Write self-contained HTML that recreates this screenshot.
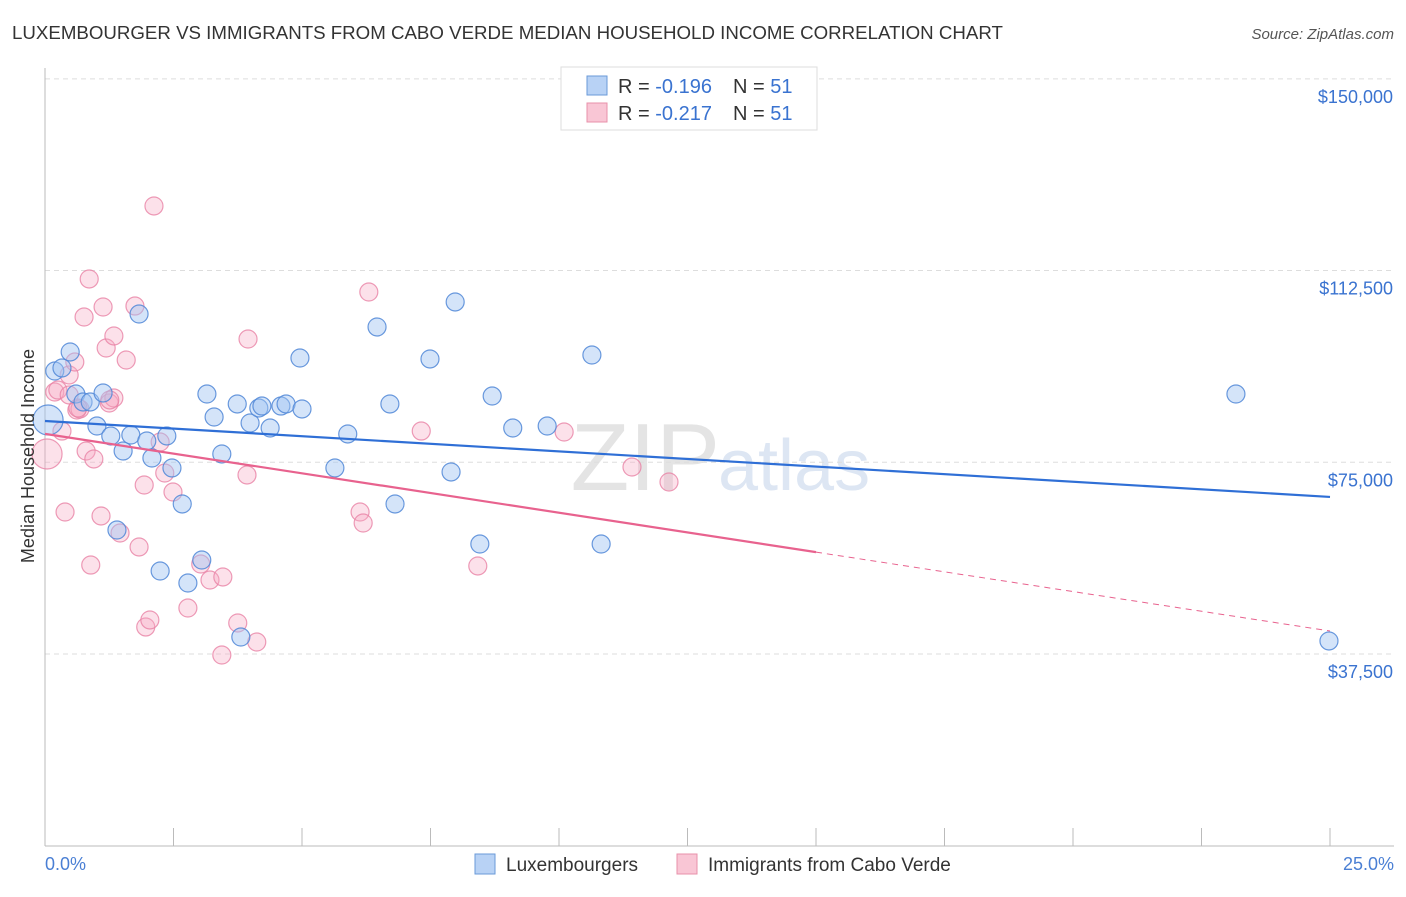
<!DOCTYPE html>
<html><head><meta charset="utf-8">
<style>
body{margin:0;background:#fff;font-family:"Liberation Sans",sans-serif;}
svg text{font-family:"Liberation Sans",sans-serif;}
</style></head>
<body>
<svg id="chart" width="1406" height="892">
<text x="12" y="39" font-size="18.7" fill="#333">LUXEMBOURGER VS IMMIGRANTS FROM CABO VERDE MEDIAN HOUSEHOLD INCOME CORRELATION CHART</text>
<text x="1394" y="39" font-size="15" fill="#555" font-style="italic" text-anchor="end">Source: ZipAtlas.com</text>
<text x="720" y="490" font-size="96" fill="#e4e4e4" font-family="Liberation Serif" text-anchor="end">ZIP</text>
<text x="718" y="490" font-size="72" fill="#dde6f3">atlas</text>
<g id="grid"></g>
<g id="axes"></g>
<g id="pts"></g>
<g id="trend"></g>
<text transform="translate(34,456) rotate(-90)" font-size="18" fill="#333" text-anchor="middle">Median Household Income</text>
<text x="45" y="870" font-size="18" fill="#4a7fd4">0.0%</text>
<text x="1394" y="870" font-size="18" fill="#4a7fd4" text-anchor="end">25.0%</text>
<g>
<rect x="561" y="67" width="256" height="63" fill="#fff" stroke="#ddd"/>
<rect x="587" y="76" width="20" height="19" fill="#b8d2f5" stroke="#6a9ad8"/>
<rect x="587" y="103" width="20" height="19" fill="#f9c6d5" stroke="#e890aa"/>
<text x="618" y="93" font-size="20" fill="#333">R = <tspan fill="#3a73d0">-0.196</tspan></text>
<text x="733" y="93" font-size="20" fill="#333">N = <tspan fill="#3a73d0">51</tspan></text>
<text x="618" y="120" font-size="20" fill="#333">R = <tspan fill="#3a73d0">-0.217</tspan></text>
<text x="733" y="120" font-size="20" fill="#333">N = <tspan fill="#3a73d0">51</tspan></text>
</g>
<g>
<rect x="475" y="854" width="20" height="20" fill="#b8d2f5" stroke="#6a9ad8"/>
<text x="506" y="871" font-size="19" fill="#333">Luxembourgers</text>
<rect x="677" y="854" width="20" height="20" fill="#f9c6d5" stroke="#e890aa"/>
<text x="708" y="871" font-size="19" fill="#333">Immigrants from Cabo Verde</text>
</g>
</svg>
<script>
const yTicks=[37500,75000,112500,150000];
const yTickLabels=["$37,500","$75,000","$112,500","$150,000"];
const blueX=[.19,.49,.33,.60,.74,.88,1.13,1.01,1.28,1.52,1.67,1.83,1.98,2.08,2.24,2.37,2.47,2.67,2.78,3.05,3.15,3.29,3.44,3.74,3.81,3.99,4.16,4.22,4.38,4.59,4.69,4.96,5.00,5.64,5.89,6.46,6.71,6.81,7.49,7.90,7.98,8.46,8.70,9.10,9.77,10.64,10.82,23.17,24.98,.06,1.40];
const blueY=[92850,96570,93440,88350,86790,86790,88550,82090,80140,77200,80330,104000,79160,75830,53730,80140,73880,66840,51380,55880,88350,83850,76620,86400,40820,82680,85610,86000,81700,86000,86400,95390,85420,73880,80530,101460,86400,66840,95200,73100,106350,59010,87960,81700,82090,95980,59010,88350,40040,83270,61750];
const pinkX=[.04,.19,.25,.33,.39,.47,.62,.68,.76,.80,.86,.89,.95,1.09,1.13,1.19,1.25,1.34,1.34,1.46,1.58,1.75,1.83,1.93,1.96,2.04,2.12,2.24,2.33,2.49,2.78,3.03,3.21,3.46,3.44,3.75,3.93,3.95,4.12,6.13,6.19,6.30,7.32,8.42,10.10,11.42,12.14,.58,.64,.47,1.26];
const pinkY=[76620,88740,89130,81110,65270,92070,85220,85420,103410,77200,110850,54900,75640,64490,105370,97350,86590,87570,99700,61160,95000,105560,58430,70550,42780,44150,125130,78960,72900,69180,46490,55100,51970,52560,37300,43560,72510,99110,39840,65270,63120,108300,81110,54710,80920,74070,71140,94610,85610,88160,87180];
const blueTrend=[83070,68220];
const pinkTrend=[80550,42000];
const pinkSolidEnd=15;
const NS="http://www.w3.org/2000/svg";
const X=p=>45+p/25*1285;
const Y=v=>845.7-v/195.6;
function mk(tag,attrs,parent){const e=document.createElementNS(NS,tag);for(const k in attrs)e.setAttribute(k,attrs[k]);document.getElementById(parent).appendChild(e);return e;}
yTicks.forEach((t,i)=>{
 const g=mk('line',{x1:45,x2:1394,y1:Y(t),y2:Y(t),stroke:'#ddd','stroke-dasharray':'5,4'},'grid');
 
 
 const tx=mk('text',{x:1393,y:Y(t)+24,'font-size':18,fill:'#3a73d0','text-anchor':'end'},'grid');
 tx.textContent=yTickLabels[i];
 
 
});
const ax=mk('line',{x1:45,x2:45,y1:68,y2:846,stroke:'#bbb'},'axes');


const bx=mk('line',{x1:45,x2:1394,y1:846,y2:846,stroke:'#bbb'},'axes');


for(let i=0;i<=10;i++){const t=mk('line',{x1:X(i*2.5),x2:X(i*2.5),y1:828,y2:846,stroke:'#bbb'},'axes');
 
 }
function dots(xs,ys,fill,stroke,name){xs.forEach((x,i)=>{
 const r=(x<0.1)?15:9;
 const c=mk('circle',{cx:X(x),cy:Y(ys[i]),r:r,fill:fill,stroke:stroke,'stroke-width':1.2},'pts');
 
 
});}
dots(pinkX,pinkY,'rgba(246,170,195,0.35)','rgba(232,130,165,0.8)','cabo-verde-point');
dots(blueX,blueY,'rgba(160,195,242,0.45)','rgba(80,135,215,0.85)','luxembourger-point');
const bl=mk('line',{x1:X(0),y1:Y(blueTrend[0]),x2:X(25),y2:Y(blueTrend[1]),stroke:'#2f6fd6','stroke-width':2.2},'trend');


const pAt=p=>pinkTrend[0]+(pinkTrend[1]-pinkTrend[0])*p/25;
const pl=mk('line',{x1:X(0),y1:Y(pinkTrend[0]),x2:X(pinkSolidEnd),y2:Y(pAt(pinkSolidEnd)),stroke:'#e8628e','stroke-width':2.2},'trend');


const pd=mk('line',{x1:X(pinkSolidEnd),y1:Y(pAt(pinkSolidEnd)),x2:X(25),y2:Y(pinkTrend[1]),stroke:'#e8628e','stroke-width':1,'stroke-dasharray':'6,5'},'trend');


</script>
</body></html>
